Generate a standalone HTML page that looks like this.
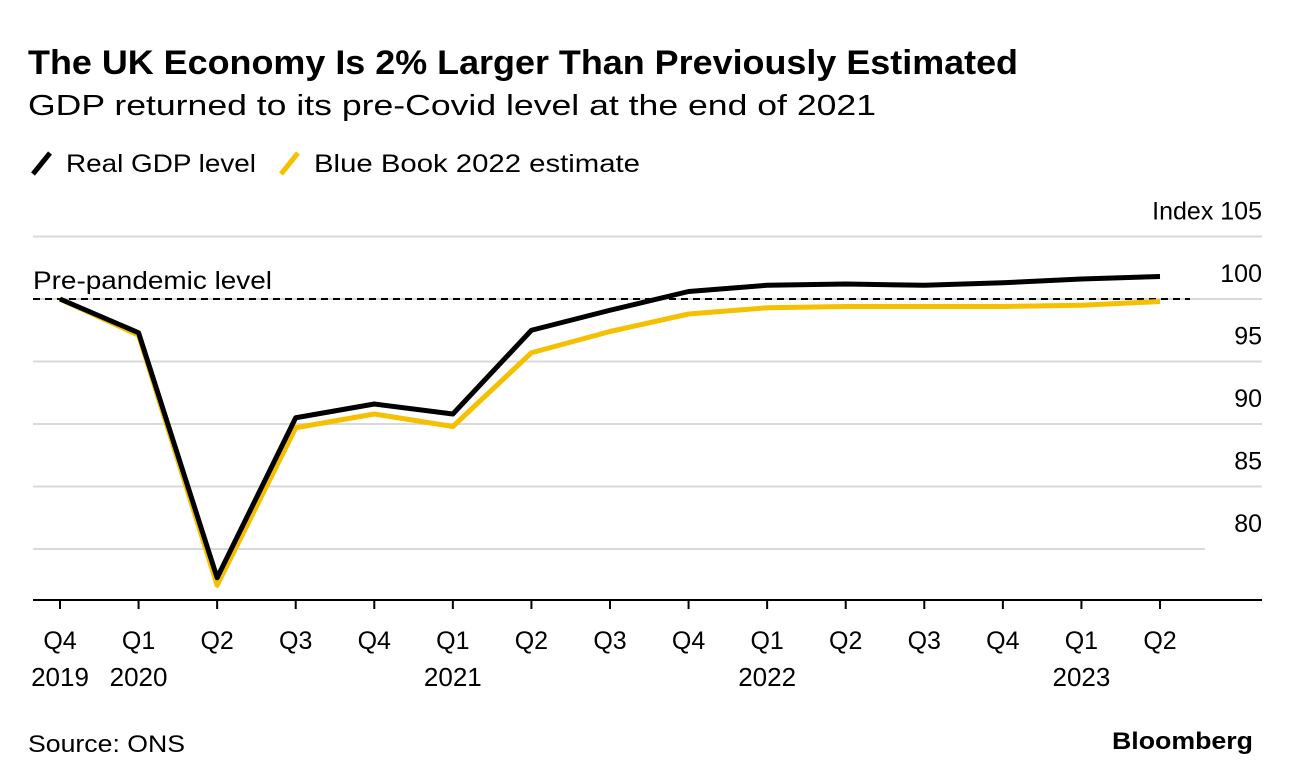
<!DOCTYPE html>
<html><head><meta charset="utf-8"><style>
body{margin:0;width:1292px;height:784px;background:#fff;font-family:"Liberation Sans",sans-serif;overflow:hidden}
svg{position:absolute;left:0;top:0}
</style></head><body>
<svg width="1292" height="784">
<text x="28" y="74" font-size="34" font-weight="bold" fill="#000" textLength="990" lengthAdjust="spacingAndGlyphs">The UK Economy Is 2% Larger Than Previously Estimated</text>
<text x="28" y="115" font-size="29" fill="#000" textLength="848" lengthAdjust="spacingAndGlyphs">GDP returned to its pre-Covid level at the end of 2021</text>
<g>
<line x1="33" y1="174" x2="50" y2="153" stroke="#000" stroke-width="5"/>
<text x="66" y="172" font-size="25" textLength="190" lengthAdjust="spacingAndGlyphs">Real GDP level</text>
<line x1="281" y1="174" x2="298" y2="153" stroke="#f5c000" stroke-width="5"/>
<text x="314" y="172" font-size="25" textLength="326" lengthAdjust="spacingAndGlyphs">Blue Book 2022 estimate</text>
</g>
<g id="grid"></g>
<g id="series"></g>
<g id="xaxis"></g>
<text x="28" y="752" font-size="24" textLength="157" lengthAdjust="spacingAndGlyphs">Source: ONS</text>
<text x="1112" y="749" font-size="24" font-weight="bold" textLength="141" lengthAdjust="spacingAndGlyphs">Bloomberg</text>
</svg>
<script>
const quarters=["Q4","Q1","Q2","Q3","Q4","Q1","Q2","Q3","Q4","Q1","Q2","Q3","Q4","Q1","Q2"];
const years=["2019","2020","","","","2021","","","","2022","","","","2023",""];
const realGdp=[100,97.3,77.7,90.5,91.6,90.8,97.5,99.1,100.6,101.1,101.2,101.1,101.3,101.6,101.8];
const blueBook=[100,97.1,77.1,89.7,90.8,89.8,95.7,97.4,98.8,99.3,99.4,99.4,99.4,99.5,99.8];
const yTicks=[105,100,95,90,85,80];
const NS="http://www.w3.org/2000/svg";
const x=i=>60+i*(1160-60)/14;
const y=v=>299-(v-100)*12.5;
function mk(t,a,p){const e=document.createElementNS(NS,t);for(const k in a)e.setAttribute(k,a[k]);p.appendChild(e);return e;}
const grid=document.getElementById('grid');
yTicks.forEach(v=>{
 const l=mk('line',{x1:33,x2:v===80?1205:1262,y1:y(v),y2:y(v),stroke:'#d9d9d9','stroke-width':2},grid);
 
 
 const t=mk('text',{x:1262,y:y(v)-17,'font-size':25,'text-anchor':'end'},grid);
 t.textContent=v===105?'Index 105':String(v);
 
 
});
const ref=mk('line',{x1:33,x2:1190,y1:y(100),y2:y(100),stroke:'#000','stroke-width':2,'stroke-dasharray':'7,5'},grid);


const rt=mk('text',{x:33,y:y(100)-10,'font-size':25,textLength:239,lengthAdjust:'spacingAndGlyphs'},grid);
rt.textContent='Pre-pandemic level';


const ser=document.getElementById('series');
[[blueBook,'#f5c000','blue-book-line'],[realGdp,'#000','real-gdp-line']].forEach(([d,c,n])=>{
 const p=mk('polyline',{points:d.map((v,i)=>x(i)+','+y(v)).join(' '),fill:'none',stroke:c,'stroke-width':5,'stroke-linejoin':'round'},ser);
 
 
});
const xa=document.getElementById('xaxis');
const ax=mk('line',{x1:33,x2:1262,y1:600,y2:600,stroke:'#000','stroke-width':2},xa);


quarters.forEach((q,i)=>{
 const tk=mk('line',{x1:x(i),x2:x(i),y1:600,y2:609,stroke:'#000','stroke-width':2},xa);
 
 
 const t=mk('text',{x:x(i),y:649,'font-size':25,'text-anchor':'middle'},xa);
 t.textContent=q;
 
 
 if(years[i]){
  const yt=mk('text',{x:x(i),y:686,'font-size':26,'text-anchor':'middle'},xa);
  yt.textContent=years[i];
  
  
 }
});
</script>
</body></html>
